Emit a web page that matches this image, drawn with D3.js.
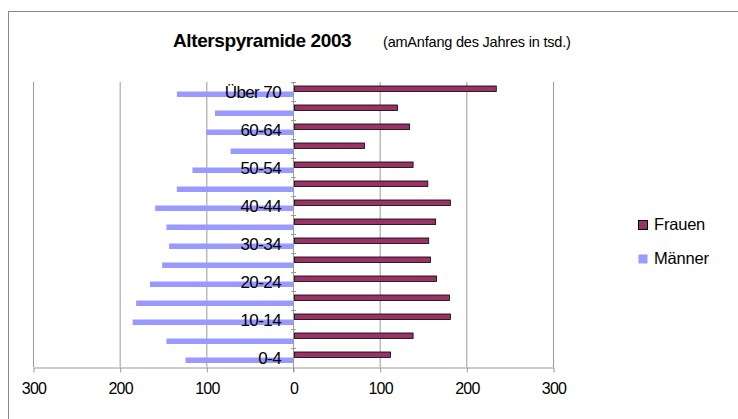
<!DOCTYPE html>
<html>
<head>
<meta charset="utf-8">
<script src="https://cdn.jsdelivr.net/npm/d3@7"></script>
<style>
  body { margin: 0; background: #fff; }
  text { font-family: "Liberation Sans", Arial, sans-serif; fill: #000; }
</style>
</head>
<body>
<div id="chart"></div>
<script>
// Data (in thousands)
const categories = ["0-4", "5-9", "10-14", "15-19", "20-24", "25-29", "30-34", "35-39",
  "40-44", "45-49", "50-54", "55-59", "60-64", "65-69", "Über 70"];
const frauen = [112, 138, 181, 180, 165, 158, 156, 164, 181, 155, 138, 82, 134, 120, 234];
const maenner = [124, 146, 185, 181, 165, 151, 143, 146, 159, 134, 116, 72, 100, 90, 134];
const shownLabels = ["0-4", "10-14", "20-24", "30-34", "40-44", "50-54", "60-64", "Über 70"];
const xTicks = [-300, -200, -100, 0, 100, 200, 300];

const dimensions = { width: 738, height: 419 };

const svg = d3.select("#chart").append("svg")
  .attr("width", dimensions.width)
  .attr("height", dimensions.height);

// chart border (only top/left visible)
svg.append("rect")
  .attr("x", 8.5).attr("y", 11.5)
  .attr("width", 760).attr("height", 440)
  .attr("fill", "none").attr("stroke", "#888").attr("stroke-width", 1);

// Title
svg.append("text")
  .attr("x", 173).attr("y", 47)
  .style("font-size", "19px").style("font-weight", "bold")
  .style("letter-spacing", "-0.4px")
  .text("Alterspyramide 2003");
svg.append("text")
  .attr("x", 383).attr("y", 47)
  .style("font-size", "14.5px").style("letter-spacing", "-0.2px")
  .text("(amAnfang des Jahres in tsd.)");

// Scales
const xScale = d3.scaleLinear().domain([-300, 300]).range([33, 553]);
const yScale = d3.scaleBand().domain(categories).range([367, 82]);
const bw = yScale.bandwidth();

// Gridlines
svg.append("g").selectAll("line")
  .data(xTicks.filter(d => d !== 0))
  .join("line")
  .attr("x1", d => xScale(d) + 0.5).attr("x2", d => xScale(d) + 0.5)
  .attr("y1", 82).attr("y2", 367)
  .attr("stroke", "#9a9a9a").attr("stroke-width", 1);

// Bars
svg.append("g").selectAll("rect")
  .data(categories)
  .join("rect")
  .attr("x", (d, i) => xScale(-maenner[i]))
  .attr("y", d => yScale(d) + bw * 0.5)
  .attr("width", (d, i) => xScale(0) - xScale(-maenner[i]))
  .attr("height", bw * 0.29)
  .attr("fill", "#9999ff");

svg.append("g").selectAll("rect")
  .data(categories)
  .join("rect")
  .attr("x", xScale(0) + 1.5)
  .attr("y", d => yScale(d) + bw * 0.21)
  .attr("width", (d, i) => xScale(frauen[i]) - xScale(0) - 1)
  .attr("height", bw * 0.29)
  .attr("fill", "#993366")
  .attr("stroke", "#000").attr("stroke-width", 0.8);

// X axis
const xAxis = d3.axisBottom(xScale)
  .tickValues(xTicks)
  .tickFormat(d => Math.abs(d))
  .tickSize(5)
  .tickSizeOuter(0);
const xAxisG = svg.append("g")
  .attr("transform", "translate(0.5, 367.5)")
  .call(xAxis);
xAxisG.select(".domain").attr("stroke", "#9a9a9a");
xAxisG.selectAll(".tick line").attr("stroke", "#9a9a9a");
xAxisG.selectAll(".tick text")
  .attr("y", 26).attr("dy", 0)
  .style("font-size", "16px").style("letter-spacing", "-0.8px")
  .style("font-family", "Liberation Sans, Arial, sans-serif")
  .attr("fill", "#000");

// Category axis at zero
const catAxisG = svg.append("g");
catAxisG.append("line")
  .attr("x1", xScale(0) + 0.5).attr("x2", xScale(0) + 0.5)
  .attr("y1", 82).attr("y2", 372)
  .attr("stroke", "#9a9a9a");
catAxisG.selectAll("line.tick")
  .data(categories)
  .join("line")
  .attr("class", "tick")
  .attr("x1", xScale(0) - 2).attr("x2", xScale(0) + 3)
  .attr("y1", d => Math.round(yScale(d)) + 0.5)
  .attr("y2", d => Math.round(yScale(d)) + 0.5)
  .attr("stroke", "#9a9a9a");

// Category labels
svg.append("g").selectAll("text")
  .data(shownLabels)
  .join("text")
  .attr("x", 281)
  .attr("y", d => yScale(d) + bw / 2 + 6)
  .attr("text-anchor", "end")
  .style("font-size", "17px").style("letter-spacing", "-0.6px")
  .text(d => d);

// Legend
const legendItems = [
  { name: "Frauen", color: "#993366", stroke: "#000" },
  { name: "Männer", color: "#9999ff", stroke: "none" },
];
const legend = svg.append("g").selectAll("g")
  .data(legendItems)
  .join("g")
  .attr("transform", (d, i) => `translate(638, ${220 + i * 34})`);
legend.append("rect")
  .attr("x", 0.5).attr("y", 0.5)
  .attr("width", 9).attr("height", 9)
  .attr("fill", d => d.color)
  .attr("stroke", d => d.stroke);
legend.append("text")
  .attr("x", 16).attr("y", 10)
  .style("font-size", "16.5px").style("letter-spacing", "-0.2px")
  .text(d => d.name);
</script>
</body>
</html>
